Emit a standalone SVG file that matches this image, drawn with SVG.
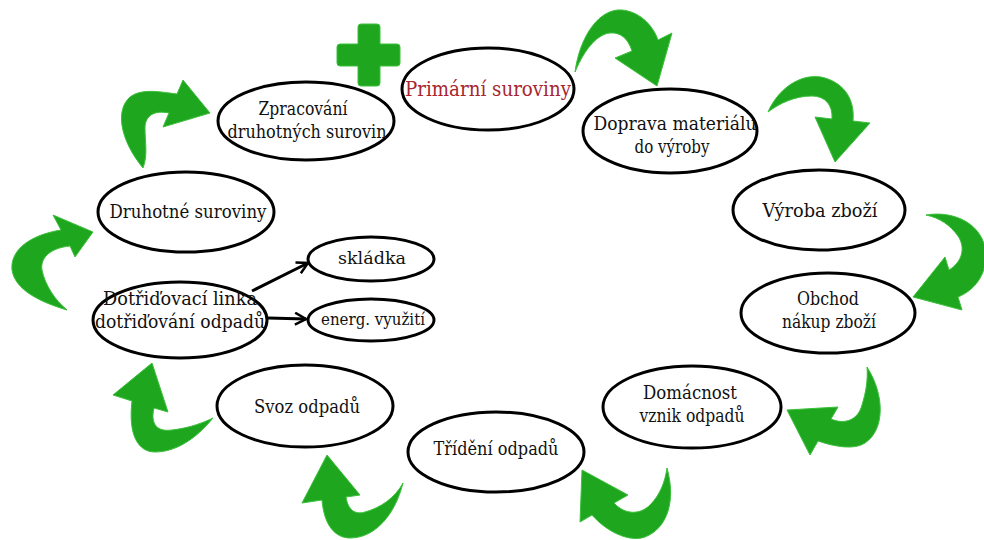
<svg xmlns="http://www.w3.org/2000/svg" width="984" height="540" viewBox="0 0 984 540">
<defs>
<style>
.node ellipse{fill:#fff;stroke:#000;stroke-width:3}
text{font-family:"DejaVu Serif","Noto Serif",serif;font-size:19px;fill:#111;text-anchor:middle}
.s{font-size:16px}
.red{fill:#a8262e;font-size:21px}
.g{fill:#1fa61f;stroke:#3cc03c;stroke-width:1}
.blk{stroke:#000;stroke-width:3;fill:none}
</style>
<marker id="ah" viewBox="0 0 14 14" refX="12" refY="7" markerWidth="14" markerHeight="14" markerUnits="userSpaceOnUse" orient="auto">
<path d="M1,1 L12,7 L1,13" fill="none" stroke="#000" stroke-width="2.5"/>
</marker>
</defs>
<rect width="984" height="540" fill="#fff"/>

<g id="green-arrows">
<path class="g" d="M340,44 L358,44 L358,27 Q358,24 361,24 L377,24 Q380,24 380,27 L380,44 L397,44 Q400,44 400,47 L400,63 Q400,66 397,66 L380,66 L380,83 Q380,86 377,86 L361,86 Q358,86 358,83 L358,66 L340,66 Q337,66 337,63 L337,47 Q337,44 340,44 Z"/>
<path class="g" d="M575,72 C580,35 600,8 622,10 C642,12 654,28 658,40 L672,33 L657,86 L615,58 L632,51 C628,38 620,32 610,33 C598,34 585,48 575,72 Z"/>
<path class="g" d="M768,112 C780,85 805,72 825,78 C845,84 855,100 853,121 L870,123 L835,162 L815,117 L832,119 C833,105 825,96 812,96 C795,96 780,103 768,112 Z"/>
<path class="g" d="M926,215 C955,210 985,225 986,255 C986,275 975,290 958,297 L962,310 L913,297 L945,257 L949,270 C962,262 966,248 958,236 C950,225 940,218 926,215 Z"/>
<path class="g" d="M867,367 C885,395 885,430 865,443 C855,450 835,447 818,441 L810,455 L787,410 L838,407 L831,419 C845,425 858,420 862,405 C866,392 868,380 867,367 Z"/>
<path class="g" d="M667,468 C676,500 668,528 645,537 C628,543 605,530 592,515 L580,522 L582,470 L628,495 L614,503 C625,515 640,515 650,505 C660,495 665,482 667,468 Z"/>
<path class="g" d="M403,483 C395,515 375,538 350,538 C335,538 324,525 322,500 L302,503 L327,455 L360,495 L346,497 C348,510 355,515 365,512 C380,508 395,498 403,483 Z"/>
<path class="g" d="M213,418 C195,440 175,452 155,452 C138,452 128,435 132,401 L113,395 L152,363 L168,412 L154,408 C150,425 158,432 172,430 C190,428 205,422 213,418 Z"/>
<path class="g" d="M67,310 C40,302 15,290 12,270 C10,250 30,235 61,230 L53,215 L93,232 L75,257 L70,246 C50,248 40,258 42,270 C45,285 55,300 67,310 Z"/>
<path class="g" d="M143,168 C120,140 115,110 130,97 C142,88 160,92 177,94 L183,80 L210,113 L163,127 L169,113 C155,110 145,115 145,128 C145,142 148,155 143,168 Z"/>
</g>

<g id="connectors">
<line class="blk" x1="252" y1="291" x2="308" y2="263" marker-end="url(#ah)"/>
<line class="blk" x1="268" y1="318" x2="306" y2="319" marker-end="url(#ah)"/>
</g>

<g id="n-primarni" class="node"><ellipse cx="488" cy="89" rx="86" ry="41"/><text class="red" x="488" y="96" textLength="166" lengthAdjust="spacingAndGlyphs">Primární suroviny</text></g>
<g id="n-doprava" class="node"><ellipse cx="670" cy="131" rx="87" ry="42"/><text x="675" y="130" textLength="163" lengthAdjust="spacingAndGlyphs">Doprava materiálu</text><text x="672" y="153" textLength="75" lengthAdjust="spacingAndGlyphs">do výroby</text></g>
<g id="n-vyroba" class="node"><ellipse cx="819" cy="210" rx="86" ry="40"/><text x="820" y="217" textLength="115" lengthAdjust="spacingAndGlyphs">Výroba zboží</text></g>
<g id="n-obchod" class="node"><ellipse cx="828" cy="313" rx="87" ry="40"/><text x="828" y="305" textLength="62" lengthAdjust="spacingAndGlyphs">Obchod</text><text x="829" y="328" textLength="94" lengthAdjust="spacingAndGlyphs">nákup zboží</text></g>
<g id="n-domacnost" class="node"><ellipse cx="692" cy="407" rx="89" ry="41"/><text x="690" y="399" textLength="94" lengthAdjust="spacingAndGlyphs">Domácnost</text><text x="692" y="422" textLength="105" lengthAdjust="spacingAndGlyphs">vznik odpadů</text></g>
<g id="n-trideni" class="node"><ellipse cx="496" cy="452" rx="88" ry="40"/><text x="496" y="455" textLength="125" lengthAdjust="spacingAndGlyphs">Třídění odpadů</text></g>
<g id="n-svoz" class="node"><ellipse cx="305" cy="406" rx="88" ry="41"/><text x="307" y="413" textLength="106" lengthAdjust="spacingAndGlyphs">Svoz odpadů</text></g>
<g id="n-dotridovaci" class="node"><ellipse cx="180" cy="320" rx="87" ry="38"/><text x="180" y="305" textLength="154" lengthAdjust="spacingAndGlyphs">Dotřiďovací linka</text><text x="180" y="328" textLength="170" lengthAdjust="spacingAndGlyphs">dotřiďování odpadů</text></g>
<g id="n-druhotne" class="node"><ellipse cx="186" cy="212" rx="88" ry="40"/><text x="188" y="218" textLength="157" lengthAdjust="spacingAndGlyphs">Druhotné suroviny</text></g>
<g id="n-zpracovani" class="node"><ellipse cx="306" cy="121" rx="88" ry="39"/><text x="303" y="115" textLength="89" lengthAdjust="spacingAndGlyphs">Zpracování</text><text x="307" y="138" textLength="159" lengthAdjust="spacingAndGlyphs">druhotných surovin</text></g>
<g id="n-skladka" class="node"><ellipse cx="371" cy="259" rx="63" ry="22"/><text class="s" x="372" y="264" textLength="68" lengthAdjust="spacingAndGlyphs">skládka</text></g>
<g id="n-energ" class="node"><ellipse cx="371" cy="320" rx="63" ry="21"/><text class="s" x="373" y="325" textLength="104" lengthAdjust="spacingAndGlyphs">energ. využití</text></g>
</svg>
